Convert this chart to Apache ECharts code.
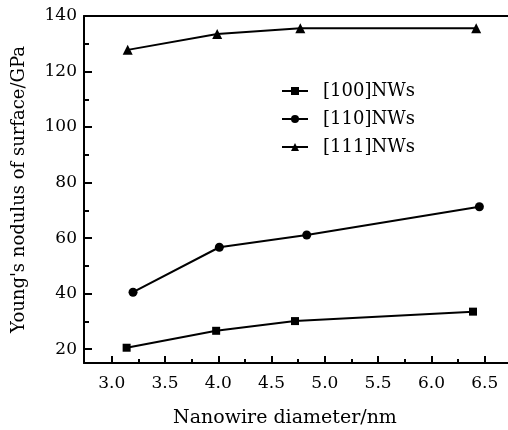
<!DOCTYPE html>
<html>
<head>
<meta charset="utf-8">
<script src="https://cdn.jsdelivr.net/npm/echarts@6/dist/echarts.min.js"></script>
<style>
  html, body { margin: 0; padding: 0; background: #fff; }
  #main { width: 508px; height: 430px; }
</style>
</head>
<body>
<div id="main"></div>
<script>
// data
var seriesNames = ['[100]NWs', '[110]NWs', '[111]NWs'];
var seriesSymbols = ['rect', 'circle', 'triangle'];
var d100 = [[3.14, 20.5], [3.98, 26.6], [4.72, 30.1], [6.39, 33.5]];
var d110 = [[3.20, 40.5], [4.01, 56.7], [4.83, 61.1], [6.45, 71.3]];
var d111 = [[3.15, 127.8], [3.99, 133.5], [4.77, 135.6], [6.42, 135.6]];
var xTicks = [3.0, 3.5, 4.0, 4.5, 5.0, 5.5, 6.0, 6.5];
var xMinor = [3.25, 3.75, 4.25, 4.75, 5.25, 5.75, 6.25];
var yTicks = [20, 40, 60, 80, 100, 120, 140];
var yMinor = [30, 50, 70, 90, 110, 130];

var font = 'DejaVu Serif';
var myChart = echarts.init(document.getElementById('main'));

var dataSets = [d100, d110, d111];
var symSizes = [8, 9, 10];
var series = dataSets.map(function (d, i) {
  return {
    name: seriesNames[i],
    type: 'line',
    data: d,
    symbol: seriesSymbols[i],
    symbolSize: symSizes[i],
    showAllSymbol: true,
    itemStyle: { color: '#000' },
    lineStyle: { color: '#000', width: 2 },
    animation: false
  };
});

function xAx(extra) {
  var base = {
    type: 'value', min: 2.74, max: 7.0, gridIndex: 0,
    splitLine: { show: false },
    axisLine: { show: false },
    axisTick: { show: false },
    axisLabel: { show: false }
  };
  return Object.assign(base, extra);
}
function yAx(extra) {
  var base = {
    type: 'value', min: 15, max: 140, gridIndex: 0,
    splitLine: { show: false },
    axisLine: { show: false },
    axisTick: { show: false },
    axisLabel: { show: false }
  };
  return Object.assign(base, extra);
}

myChart.setOption({
  backgroundColor: '#fff',
  animation: false,
  grid: { left: 84, top: 16, right: -30, bottom: 67, outerBoundsMode: 'none' },
  legend: {
    data: seriesNames,
    orient: 'vertical',
    left: 276,
    top: 77,
    itemWidth: 26,
    itemHeight: 10,
    itemGap: 10,
    textStyle: { fontFamily: font, fontSize: 18, color: '#000', padding: [0, 0, 0, 10] }
  },
  xAxis: [
    xAx({
      position: 'bottom',
      name: 'Nanowire diameter/nm',
      nameLocation: 'middle',
      nameGap: 46,
      nameTextStyle: { fontFamily: font, fontSize: 19, color: '#000', padding: [0, 52, 0, 0] },
      axisLine: { show: true, onZero: false, lineStyle: { color: '#000', width: 2 } },
      axisTick: { show: true, inside: true, length: 7, customValues: xTicks, lineStyle: { color: '#000', width: 2 } },
      axisLabel: {
        show: true, margin: 12, customValues: xTicks,
        fontFamily: font, fontSize: 17, color: '#000',
        formatter: function (v) { return v.toFixed(1); }
      }
    }),
    xAx({
      position: 'bottom',
      axisTick: { show: true, inside: true, length: 4, customValues: xMinor, lineStyle: { color: '#000', width: 2 } }
    }),
    xAx({
      position: 'top',
      axisLine: { show: true, onZero: false, lineStyle: { color: '#000', width: 2 } }
    })
  ],
  yAxis: [
    yAx({
      position: 'left',
      name: "Young's nodulus of surface/GPa",
      nameLocation: 'middle',
      nameGap: 56,
      nameTextStyle: { fontFamily: font, fontSize: 18, color: '#000' },
      axisLine: { show: true, onZero: false, lineStyle: { color: '#000', width: 2 } },
      axisTick: { show: true, inside: true, length: 8, customValues: yTicks, lineStyle: { color: '#000', width: 2 } },
      axisLabel: {
        show: true, margin: 7, customValues: yTicks,
        fontFamily: font, fontSize: 17, color: '#000'
      }
    }),
    yAx({
      position: 'left',
      axisTick: { show: true, inside: true, length: 5, customValues: yMinor, lineStyle: { color: '#000', width: 2 } }
    })
  ],
  series: series
});
</script>
</body>
</html>
